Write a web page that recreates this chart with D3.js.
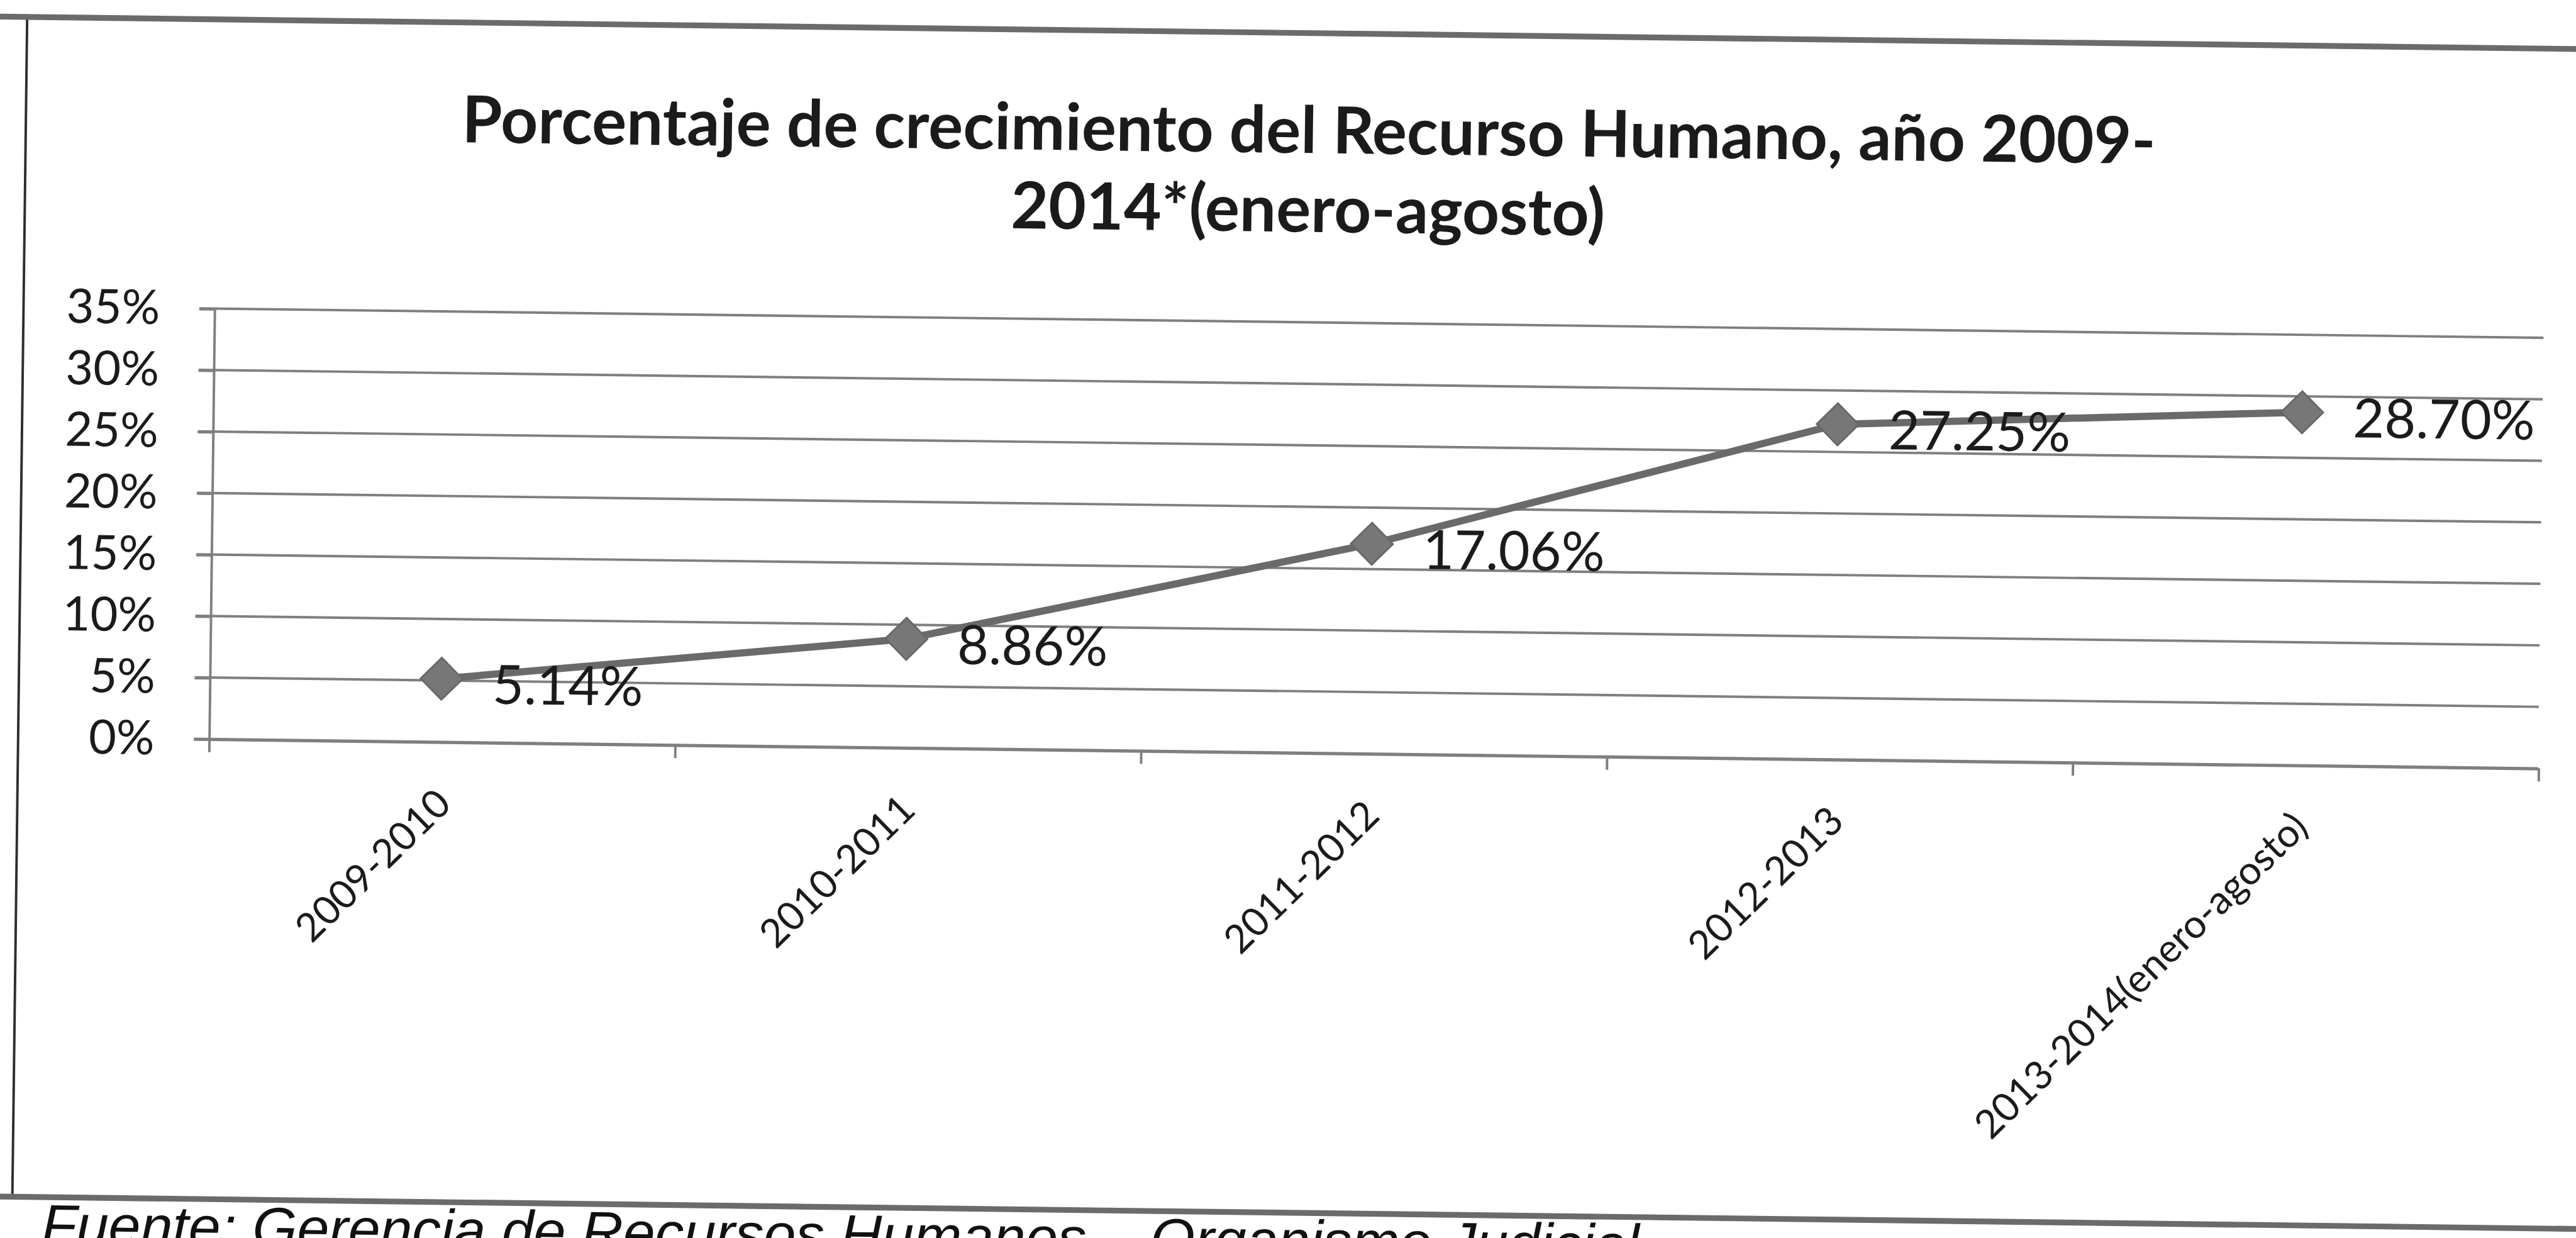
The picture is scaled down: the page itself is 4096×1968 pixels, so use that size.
<!DOCTYPE html>
<html>
<head>
<meta charset="utf-8">
<script src="https://cdnjs.cloudflare.com/ajax/libs/d3/7.8.5/d3.min.js"></script>
<style>
  body { margin: 0; background: #fff; overflow: hidden; }
  text { font-family: Lato, "Open Sans", sans-serif; fill: #1b1b1b; }
</style>
</head>
<body>
<div id="chart"></div>
<script>
// ---------------- DATA ----------------
var categories = ["2009-2010", "2010-2011", "2011-2012", "2012-2013", "2013-2014(enero-agosto)"];
var growth = [5.14, 8.86, 17.06, 27.25, 28.70];          // % de crecimiento
var valueLabels = ["5.14%", "8.86%", "17.06%", "27.25%", "28.70%"];
var yTicks = [0, 5, 10, 15, 20, 25, 30, 35];
var titleLines = ["Porcentaje de crecimiento del Recurso Humano, año 2009-", "2014*(enero-agosto)"];
var sourceNote = "Fuente: Gerencia de Recursos Humanos – Organismo Judicial";

// ---------------- SVG SETUP ----------------
// everything is laid out in units of the 1568px-wide reference, then scaled to the window
var svgWidth = 4096, svgHeight = 1968;
var vbW = 1568, vbH = 753.4;
var plot = { left: 128, right: 1541, top: 196, bottom: 458 };

var svg = d3.select("#chart")
	.append("svg")
	.attr("width", svgWidth)
	.attr("height", svgHeight)
	.attr("viewBox", `0 0 ${vbW} ${vbH}`)
	.attr("preserveAspectRatio", "none");

svg.append("rect").attr("width", vbW).attr("height", vbH).attr("fill", "#fff");

// the scanned page is a little tilted
var page = svg.append("g")
	.attr("transform", `rotate(0.72, ${vbW / 2}, ${vbH / 2})`);

// chart frame
page.append("line")
	.attr("x1", 12).attr("x2", 12).attr("y1", 20).attr("y2", 738)
	.attr("stroke", "#2e2e2e").attr("stroke-width", 1.5);
page.append("line")
	.attr("x1", -30).attr("x2", 1620).attr("y1", 20).attr("y2", 20)
	.attr("stroke", "#6b6b6b").attr("stroke-width", 3.5);
page.append("line")
	.attr("x1", -30).attr("x2", 1620).attr("y1", 738).attr("y2", 738)
	.attr("stroke", "#6b6b6b").attr("stroke-width", 3.5);

// title
var title = page.append("text")
	.attr("text-anchor", "middle")
	.attr("font-weight", "bold")
	.attr("font-size", 39.5);
title.selectAll("tspan")
	.data(titleLines)
	.enter().append("tspan")
	.attr("x", 793)
	.attr("y", (d, i) => 93 + i * 48)
	.text(d => d);

// ---------------- SCALES ----------------
var xBand = d3.scaleBand()
	.domain(categories)
	.range([plot.left, plot.right]);
var xEdges = d3.scaleLinear()          // category boundaries, where Excel puts the ticks
	.domain([0, categories.length])
	.range([plot.left, plot.right + 5]);
var yScale = d3.scaleLinear()
	.domain([0, 35])
	.range([plot.bottom, plot.top]);
var cx = d => xBand(d) + xBand.bandwidth() / 2;

// gridlines
page.append("g")
	.selectAll("line")
	.data(yTicks)
	.enter().append("line")
	.attr("x1", plot.left - 9)
	.attr("x2", plot.right + 5)
	.attr("y1", d => yScale(d))
	.attr("y2", d => yScale(d))
	.attr("stroke", "#7f7f7f")
	.attr("stroke-width", 1.5);

// y axis
var leftAxis = d3.axisLeft(yScale)
	.tickValues(yTicks)
	.tickSize(9)
	.tickSizeOuter(0)
	.tickPadding(24)
	.tickFormat(d => d + "%");
var gy = page.append("g")
	.attr("transform", `translate(${plot.left}, 0)`)
	.call(leftAxis)
	.attr("font-family", null)
	.attr("font-size", null);
gy.selectAll("path, line").attr("stroke", "#7f7f7f").attr("stroke-width", 1.5);
gy.selectAll("text").attr("font-size", 29);

// x axis: ticks between categories
var bottomAxis = d3.axisBottom(xEdges)
	.tickValues(d3.range(categories.length + 1))
	.tickSize(8)
	.tickSizeOuter(0)
	.tickFormat("");
var gx = page.append("g")
	.attr("transform", `translate(0, ${plot.bottom})`)
	.call(bottomAxis);
gx.selectAll("path, line").attr("stroke", "#7f7f7f").attr("stroke-width", 1.5);

// rotated category labels
page.append("g")
	.selectAll("text")
	.data(categories)
	.enter().append("text")
	.attr("text-anchor", "end")
	.attr("font-size", 24)
	.attr("transform", d => `translate(${cx(d) + 8}, ${plot.bottom + 39}) rotate(-45)`)
	.text(d => d);

// ---------------- SERIES ----------------
var points = categories.map((c, i) => ({ cat: c, value: growth[i], label: valueLabels[i] }));

var line = d3.line()
	.x(d => cx(d.cat))
	.y(d => yScale(d.value));

page.append("path")
	.datum(points)
	.attr("d", line)
	.attr("fill", "none")
	.attr("stroke", "#6a6a6a")
	.attr("stroke-width", 4.4)
	.attr("stroke-linejoin", "round");

page.append("g")
	.selectAll("path")
	.data(points)
	.enter().append("path")
	.attr("d", d3.symbol().type(d3.symbolSquare).size(330))
	.attr("transform", d => `translate(${cx(d.cat)}, ${yScale(d.value)}) rotate(45)`)
	.attr("fill", "#777")
	.attr("stroke", "#666")
	.attr("stroke-width", 1);

page.append("g")
	.selectAll("text")
	.data(points)
	.enter().append("text")
	.attr("x", d => cx(d.cat) + 31)
	.attr("y", d => yScale(d.value) + 3)
	.attr("dy", "0.36em")
	.attr("font-size", 33)
	.text(d => d.label);

// source note, cut by the bottom edge of the scan (as in the reference)
page.append("text")
	.attr("x", 30)
	.attr("y", 767)
	.style("font-family", "'Liberation Sans', Arial, sans-serif")
	.style("font-style", "italic")
	.style("fill", "#111")
	.attr("font-size", 35)
	.text(sourceNote);
</script>
</body>
</html>
